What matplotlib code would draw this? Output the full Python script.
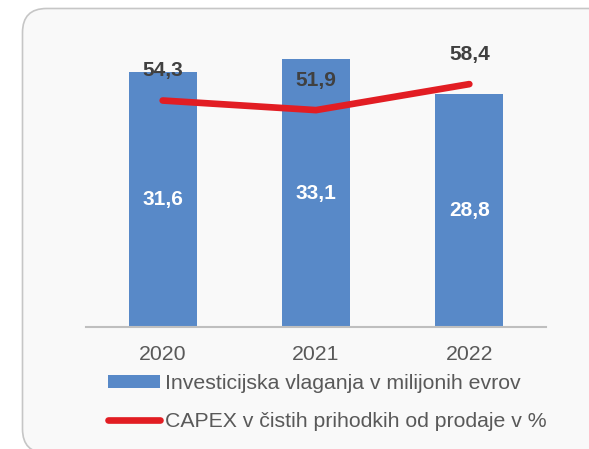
import matplotlib.pyplot as plt
from matplotlib.patches import FancyBboxPatch
from matplotlib.lines import Line2D
from matplotlib.patches import Patch
from matplotlib.transforms import IdentityTransform

plt.rcParams['font.family'] = ['Liberation Sans', 'DejaVu Sans']

years = ['2020', '2021', '2022']
investicije = [31.6, 33.1, 28.8]      # mio EUR
capex_delez = [54.3, 51.9, 58.4]      # % of net sales

bar_color = '#5889c8'
line_color = '#e21d23'


def fmt(v):
    return f'{v:.1f}'.replace('.', ',')


fig = plt.figure(figsize=(5.89, 4.49), dpi=100, facecolor='white')

# rounded panel behind the chart (pixel coordinates)
panel = FancyBboxPatch((22.5, -4), 590, 444.5,
                       boxstyle='round,pad=0,rounding_size=24',
                       transform=IdentityTransform(),
                       facecolor='#f9f9f9', edgecolor='#c6c6c6',
                       linewidth=1.2, zorder=-10)
fig.patches.append(panel)

ax = fig.add_axes([86 / 589, 122 / 449, 460 / 589, 291 / 449])
ax.set_facecolor('none')
x = range(len(years))
bars = ax.bar(x, investicije, width=0.444, color=bar_color, zorder=2)
ax.bar_label(bars, labels=[fmt(v) for v in investicije], label_type='center',
             color='white', fontsize=15, fontweight='bold')
ax.set_xlim(-0.5, 2.5)
ax.set_ylim(0, 36)
ax.set_xticks(list(x), years)
ax.tick_params(axis='x', length=0, pad=13, labelsize=15.3, labelcolor='#595959')
ax.set_yticks([])
for side in ['top', 'left', 'right']:
    ax.spines[side].set_visible(False)
ax.spines['bottom'].set_color('#bfbfbf')
ax.spines['bottom'].set_linewidth(1.5)

ax2 = ax.twinx()
ax2.plot(list(x), capex_delez, color=line_color, linewidth=4.8,
         solid_capstyle='round', solid_joinstyle='miter')
for xi, v in zip(x, capex_delez):
    ax2.annotate(fmt(v), (xi, v), xytext=(0, 21.6), textcoords='offset points',
                 ha='center', va='center', fontsize=15, fontweight='bold',
                 color='#404040')
ax2.set_ylim(-2.325, 70.43)
ax2.set_yticks([])
for side in ['top', 'left', 'right', 'bottom']:
    ax2.spines[side].set_visible(False)

handles = [Patch(facecolor=bar_color, edgecolor='none'),
           Line2D([], [], color=line_color, linewidth=4.8, solid_capstyle='round')]
labels = ['Investicijska vlaganja v milijonih evrov',
          'CAPEX v čistih prihodkih od prodaje v %']
fig.legend(handles, labels, loc='upper left', bbox_to_anchor=(108 / 589, 1 - 374 / 449),
           frameon=False, borderpad=0, borderaxespad=0, fontsize=15.3,
           handlelength=2.45, handleheight=0.55, handletextpad=0.25,
           labelspacing=0.9, labelcolor='#595959')

fig.savefig('out.png', dpi=100)
